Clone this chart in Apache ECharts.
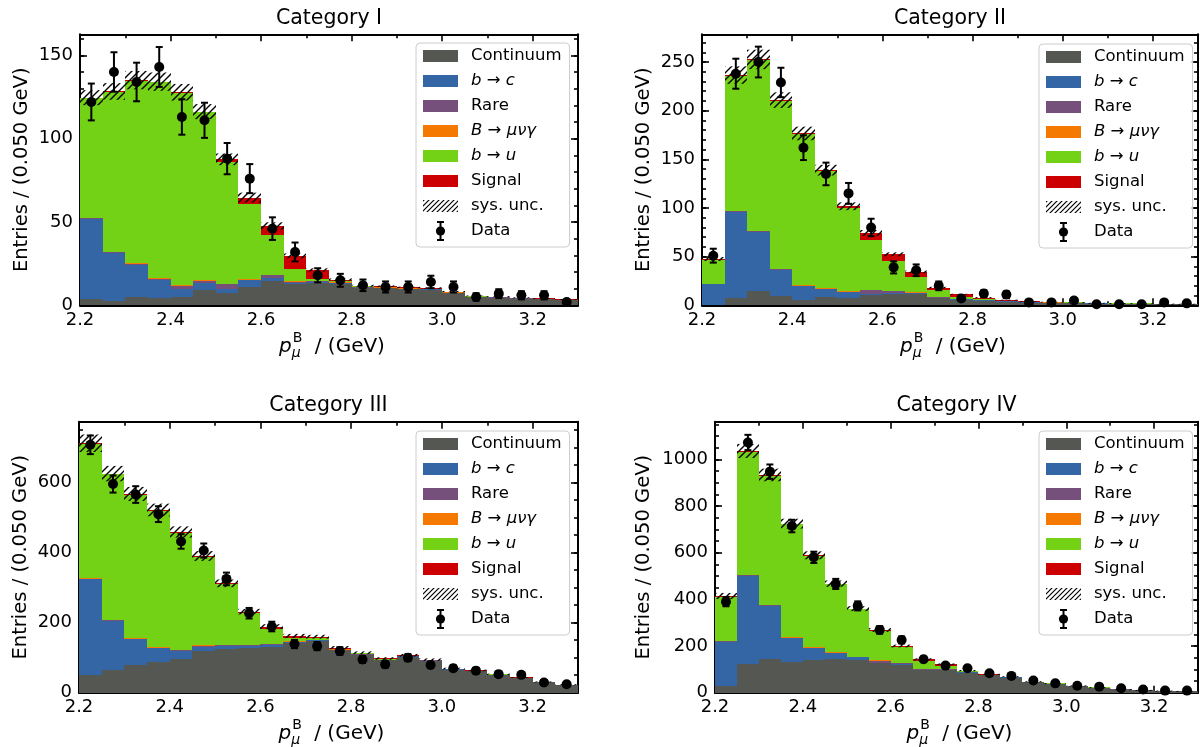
<!DOCTYPE html>
<html><head><meta charset="utf-8">
<script src="https://cdn.jsdelivr.net/npm/echarts@6/dist/echarts.min.js"></script>
<style>html,body{margin:0;padding:0;background:#fff}#c{width:1200px;height:747px}</style>
</head><body><div id="c"></div>
<script>
// ---------------- data ----------------
const binEdges = [2.20,2.25,2.30,2.35,2.40,2.45,2.50,2.55,2.60,2.65,2.70,2.75,2.80,2.85,2.90,2.95,3.00,3.05,3.10,3.15,3.20,3.25,3.30];
const xMajorTicks = [2.2,2.4,2.6,2.8,3.0,3.2];
const xMinorTicks = [2.3,2.5,2.7,2.9,3.1,3.3];
const categoryTitles = ['Category I','Category II','Category III','Category IV'];
const componentNames = ['Continuum','b → c','Rare','B → μνγ','b → u','Signal'];
const yMajorTicks = [[0,50,100,150],[0,50,100,150,200,250],[0,200,400,600],[0,200,400,600,800,1000]];
const yMinorStep = [10,10,50,50];
const yMax = [162.6,278.5,774,1161];

// Category I
const cat1Continuum = [3.6,2.8,5.2,4.6,5.2,9.4,7.4,11.2,14.8,12.6,13.5,13.0,10.3,10.2,9.8,9.3,7.4,4.9,4.5,3.9,3.5,3.0];
const cat1BtoC      = [48.0,28.8,19.2,10.8,4.6,4.2,2.4,4.0,1.4,0.6,0.5,0.3,0.2,0.2,0.1,0.2,0.1,0.1,0.1,0.1,0.1,0.1];
const cat1Rare      = [0.6,0.3,0.3,0.6,2.0,1.2,3.0,0.2,1.8,1.0,0.3,0.3,0.2,0.2,0.1,0.1,0.1,0.1,0.1,0.1,0.1,0.1];
const cat1BMuNuGam  = [0.2,0.2,0.4,0.2,0.4,0.4,0.2,0.2,0.2,0.2,0.2,0.2,0.1,0.1,0.1,0.1,0.1,0.1,0.1,0.1,0.1,0.1];
const cat1BtoU      = [71.8,95.8,109.6,117.6,115.2,100.6,72.8,45.0,24.0,7.4,1.1,0.6,0.5,0.4,0.3,0.3,0.2,0.2,0.2,0.1,0.1,0.1];
const cat1Signal    = [0.4,0.4,0.4,0.4,0.4,0.4,1.8,4.0,5.4,7.8,5.6,1.0,0.4,0.3,0.3,0.3,0.3,0.2,0.2,0.2,0.2,0.2];
const cat1SysUnc    = [4.5,5,5.5,5.5,5,4.5,3.5,3,2.2,1.5,1,0.7,0.6,0.5,0.5,0.5,0.4,0.3,0.3,0.3,0.2,0.2];
const cat1Data      = [122,140,134,143,113,111,88,76,46,32,18,15,12,11,11,14,11,5,7,6,6,2];

// Category II
const cat2Continuum = [0.5,7.5,14.4,9.2,5.8,8.6,7.2,10.3,11.3,12.0,7.5,5.8,4.4,3.5,2.8,2.5,2.2,1.8,1.5,1.4,1.1,1.0];
const cat2BtoC      = [21.0,88.5,61.4,27.5,13.7,7.8,6.2,1.7,1.5,0.5,0.3,0.3,1.0,0.5,0.3,0.2,0.2,0.1,0.1,0.1,0.1,0.1];
const cat2Rare      = [0.3,0.4,0.4,0.4,0.7,0.7,0.5,3.8,1.6,0.6,0.3,0.2,0.2,0.1,0.1,0.1,0.1,0.1,0.1,0.1,0.1,0.1];
const cat2BMuNuGam  = [0.2,0.3,0.3,0.3,0.7,0.7,0.5,0.2,0.2,0.2,0.3,0.2,0.1,0.1,0.1,0.1,0.1,0.1,0.1,0.1,0.1,0.1];
const cat2BtoU      = [25.0,139.2,175.5,172.8,155.0,120.4,86.1,51.5,31.0,15.8,7.7,2.1,0.8,0.6,0.3,0.3,0.3,0.2,0.2,0.2,0.1,0.1];
const cat2Signal    = [0.6,0.7,0.7,0.7,0.7,0.7,1.3,6.9,6.8,5.2,2.1,2.7,1.5,0.7,0.4,0.3,0.2,0.2,0.2,0.2,0.1,0.1];
const cat2SysUnc    = [2,9,10,8,7,5.5,4,3,2,1.4,0.8,0.5,0.4,0.3,0.2,0.2,0.2,0.1,0.1,0.1,0.1,0.1];
const cat2Data      = [51,238,250,229,162,135,115,80,39,36,20,7,12,11,3,3,5,1,1,1,3,2];

// Category III
const cat3Continuum = [50.6,64.8,79.1,87.7,96.2,119.0,124.8,128.6,131.5,142.9,148.6,121.0,108.0,93.0,103.0,91.0,66.0,61.0,50.5,41.5,29.5,22.0];
const cat3BtoC      = [273.3,141.0,74.3,39.0,23.8,12.5,8.6,4.8,5.7,1.5,1.0,1.2,0.8,0.7,0.6,0.5,0.5,0.4,0.3,0.3,0.2,0.2];
const cat3Rare      = [1.5,1.0,1.0,1.9,1.0,2.8,1.9,2.8,1.9,1.4,1.0,1.0,0.8,0.6,0.5,0.5,0.4,0.4,0.3,0.3,0.3,0.2];
const cat3BMuNuGam  = [2.3,1.9,1.0,1.0,1.0,0.8,0.8,0.8,0.8,0.6,0.5,0.5,0.4,0.4,0.3,0.3,0.3,0.2,0.2,0.2,0.2,0.2];
const cat3BtoU      = [382.8,415.2,410.4,390.4,335.2,253.5,174.4,91.6,42.1,10.8,4.0,2.5,2.0,1.5,1.5,1.2,1.0,1.0,0.8,0.8,0.6,0.5];
const cat3Signal    = [1.9,1.9,1.9,2.0,1.9,1.9,1.9,2.9,6.6,4.8,4.8,2.5,2.0,1.5,1.0,1.0,0.8,0.6,0.5,0.4,0.3,0.3];
const cat3SysUnc    = [25,22,20,18,16,14,11,8,7,6,5.5,4.5,4,3.5,3.8,3.3,2.5,2.3,1.9,1.5,1.1,0.9];
const cat3Data      = [708,596,566,510,432,406,325,227,189,139,133,119,95,81,100,79,70,63,53,51,29,24];

// Category IV
const cat4Continuum = [30.0,124.4,144.4,133.0,140.1,144.4,140.1,125.8,118.7,97.3,97.3,86.0,74.0,65.0,45.0,38.0,28.5,21.5,13.5,10.8,8.0,6.7];
const cat4BtoC      = [188.7,375.7,227.2,100.0,50.0,24.3,11.4,2.9,3.0,2.0,1.0,1.0,0.5,0.4,0.3,0.3,0.2,0.2,0.1,0.1,0.1,0.1];
const cat4Rare      = [1.5,2.9,2.9,1.5,1.5,1.5,1.5,8.6,4.1,2.0,1.5,0.8,0.6,0.5,0.4,0.3,0.3,0.2,0.2,0.1,0.1,0.1];
const cat4BMuNuGam  = [1.5,1.5,1.5,2.8,2.8,2.8,1.5,1.5,1.5,1.5,1.0,0.8,0.6,0.5,0.4,0.3,0.3,0.2,0.2,0.1,0.1,0.1];
const cat4BtoU      = [189.9,528.5,554.1,484.2,391.4,291.4,202.8,125.6,67.1,34.5,15.0,3.0,1.5,1.2,1.0,0.8,0.6,0.5,0.4,0.3,0.3,0.2];
const cat4Signal    = [2.8,2.8,2.8,2.8,2.8,2.8,2.8,4.3,5.7,5.7,5.7,2.8,1.5,1.0,0.8,0.6,0.5,0.4,0.3,0.3,0.2,0.2];
const cat4SysUnc    = [13,30,27,21,17,13.5,10.5,8,6,4.3,3.7,2.8,2.3,2,1.4,1.2,0.9,0.7,0.5,0.4,0.3,0.2];
const cat4Data      = [390,1072,947,714,580,466,372,269,226,143,116,105,83,72,52,40,30,26,19,14,9,9];

// ---------------- assembly ----------------
const panels = [
  {comps:[cat1Continuum,cat1BtoC,cat1Rare,cat1BMuNuGam,cat1BtoU,cat1Signal], sys:cat1SysUnc, data:cat1Data},
  {comps:[cat2Continuum,cat2BtoC,cat2Rare,cat2BMuNuGam,cat2BtoU,cat2Signal], sys:cat2SysUnc, data:cat2Data},
  {comps:[cat3Continuum,cat3BtoC,cat3Rare,cat3BMuNuGam,cat3BtoU,cat3Signal], sys:cat3SysUnc, data:cat3Data},
  {comps:[cat4Continuum,cat4BtoC,cat4Rare,cat4BMuNuGam,cat4BtoU,cat4Signal], sys:cat4SysUnc, data:cat4Data}
];
const compColors = ['#555753','#3465a4','#75507b','#f57900','#73d216','#cc0000'];
const FONT = 'DejaVu Sans';
const TXT = '#000';

const gridRects = [
  {left:80, top:34.3, width:498, height:271},
  {left:702, top:34.3, width:496, height:271},
  {left:79, top:421.7, width:499, height:271},
  {left:715, top:421.7, width:483, height:271}
];
const legendPos = [{left:416, top:43},{left:1039, top:44},{left:416, top:431},{left:1039, top:431}];
const yLabelX = [21.5, 644, 21, 644];

function hatchCanvas() {
  const s = 7;
  const c = document.createElement('canvas'); c.width = s; c.height = s;
  const ctx = c.getContext('2d');
  ctx.strokeStyle = '#000'; ctx.lineWidth = 1.4;
  ctx.beginPath();
  ctx.moveTo(0, s); ctx.lineTo(s, 0);
  ctx.moveTo(-2, 2); ctx.lineTo(2, -2);
  ctx.moveTo(s - 2, s + 2); ctx.lineTo(s + 2, s - 2);
  ctx.stroke();
  return c;
}
const HATCH = hatchCanvas();

function renderRect(params, api) {
  const p0 = api.coord([api.value(0), api.value(2)]);
  const p1 = api.coord([api.value(1), api.value(3)]);
  const x0 = Math.round(p0[0]), x1 = Math.round(p1[0]);
  const yb = Math.round(p0[1]), yt = Math.round(p1[1]);
  if (yb - yt <= 0) return null;
  return {type:'rect', shape:{x:x0, y:yt, width:x1 - x0, height:yb - yt}, style:{fill: api.visual('color')}};
}
function renderHatch(params, api) {
  const p0 = api.coord([api.value(0), api.value(2)]);
  const p1 = api.coord([api.value(1), api.value(3)]);
  const x0 = Math.round(p0[0]), x1 = Math.round(p1[0]);
  return {type:'rect', shape:{x:x0, y:p1[1], width:x1 - x0, height:Math.max(p0[1] - p1[1], 1)},
          style:{fill:{image:HATCH, repeat:'repeat'}, stroke:null}};
}
function renderErr(params, api) {
  const x = api.value(0), y = api.value(1), e = api.value(2);
  const pt = api.coord([x, y + e]), pb = api.coord([x, y - e]);
  const cap = 3.5, st = {stroke:'#000', lineWidth:2};
  return {type:'group', children:[
    {type:'line', shape:{x1:pt[0], y1:pt[1], x2:pb[0], y2:pb[1]}, style:st},
    {type:'line', shape:{x1:pt[0]-cap, y1:pt[1], x2:pt[0]+cap, y2:pt[1]}, style:st},
    {type:'line', shape:{x1:pb[0]-cap, y1:pb[1], x2:pb[0]+cap, y2:pb[1]}, style:st}
  ]};
}

const grids = [], xAxes = [], yAxes = [], series = [], legends = [], graphics = [];
const tickStyle = {color:'#000', width:1.6};

function svgIcon(inner) {
  return 'image://data:image/svg+xml;utf8,' + encodeURIComponent(
    '<svg xmlns="http://www.w3.org/2000/svg" width="43" height="20" viewBox="0 0 43 20">' + inner + '</svg>');
}
const hatchIcon = svgIcon('<defs><pattern id="h" width="5" height="5" patternUnits="userSpaceOnUse"><path d="M0,5 L5,0 M-1,1 L1,-1 M4,6 L6,4" stroke="#000" stroke-width="1.2"/></pattern></defs><rect x="0" y="4" width="35" height="12" fill="url(#h)"/>');
const dataIcon = svgIcon('<line x1="17.5" y1="0.5" x2="17.5" y2="19.5" stroke="#000" stroke-width="2"/><line x1="14" y1="1" x2="21" y2="1" stroke="#000" stroke-width="2"/><line x1="14" y1="19" x2="21" y2="19" stroke="#000" stroke-width="2"/><circle cx="17.5" cy="10" r="4.6" fill="#000"/>');
const compIcons = compColors.map(c => svgIcon('<rect x="0" y="4" width="35" height="12" fill="' + c + '"/>'));
const legendNames = componentNames.concat(['sys. unc.', 'Data']);
const legendIcons = compIcons.concat([hatchIcon, dataIcon]);
const legendRich = {
  'Continuum':'Continuum', 'b → c':'{i|b} → {i|c}', 'Rare':'Rare', 'B → μνγ':'{i|B} → {i|μνγ}',
  'b → u':'{i|b} → {i|u}', 'Signal':'Signal', 'sys. unc.':'sys. unc.', 'Data':'Data'
};

panels.forEach((p, g) => {
  const r = gridRects[g];
  grids.push({left:r.left, top:r.top, width:r.width, height:r.height, containLabel:false, show:false});
  const xc = {type:'value', gridIndex:g, min:2.2, max:3.3, splitLine:{show:false}, axisLine:{show:false, onZero:false}, axisLabel:{show:false}, silent:true};
  xAxes.push(Object.assign({}, xc, {position:'bottom',
    axisLine:{show:true, onZero:false, lineStyle:{color:'#000', width:2}},
    axisTick:{show:true, inside:true, length:7, lineStyle:tickStyle, customValues:xMajorTicks},
    axisLabel:{show:true, customValues:xMajorTicks, formatter:v => v.toFixed(1), margin:6, fontFamily:FONT, fontSize:18, color:TXT}}));
  xAxes.push(Object.assign({}, xc, {position:'bottom', axisTick:{show:true, inside:true, length:4, lineStyle:tickStyle, customValues:xMinorTicks}}));
  xAxes.push(Object.assign({}, xc, {position:'top',
    axisLine:{show:true, onZero:false, lineStyle:{color:'#000', width:2}},
    axisTick:{show:true, inside:true, length:7, lineStyle:tickStyle, customValues:xMajorTicks}}));
  xAxes.push(Object.assign({}, xc, {position:'top', axisTick:{show:true, inside:true, length:4, lineStyle:tickStyle, customValues:xMinorTicks}}));

  const minor = [];
  for (let v = yMinorStep[g]; v < yMax[g]; v += yMinorStep[g]) minor.push(v);
  const yc = {type:'value', gridIndex:g, min:0, max:yMax[g], splitLine:{show:false}, axisLine:{show:false, onZero:false}, axisLabel:{show:false}, silent:true};
  yAxes.push(Object.assign({}, yc, {position:'left',
    axisLine:{show:true, onZero:false, lineStyle:{color:'#000', width:2}},
    axisTick:{show:true, inside:true, length:7, lineStyle:tickStyle, customValues:yMajorTicks[g]},
    axisLabel:{show:true, customValues:yMajorTicks[g], formatter:v => String(v), margin:7, fontFamily:FONT, fontSize:18, color:TXT}}));
  yAxes.push(Object.assign({}, yc, {position:'left', axisTick:{show:true, inside:true, length:4, lineStyle:tickStyle, customValues:minor}}));
  yAxes.push(Object.assign({}, yc, {position:'right',
    axisLine:{show:true, onZero:false, lineStyle:{color:'#000', width:2}},
    axisTick:{show:true, inside:true, length:7, lineStyle:tickStyle, customValues:yMajorTicks[g]}}));
  yAxes.push(Object.assign({}, yc, {position:'right', axisTick:{show:true, inside:true, length:4, lineStyle:tickStyle, customValues:minor}}));

  const xi = 4 * g, yi = 4 * g;
  const nb = binEdges.length - 1;
  const cum = new Array(nb).fill(0);
  p.comps.forEach((vals, c) => {
    const d = [];
    for (let i = 0; i < nb; i++) {
      d.push([binEdges[i], binEdges[i + 1], cum[i], cum[i] + vals[i]]);
      cum[i] += vals[i];
    }
    series.push({type:'custom', name:componentNames[c], xAxisIndex:xi, yAxisIndex:yi, renderItem:renderRect,
      itemStyle:{color:compColors[c]}, data:d, z:2, silent:true, encode:{x:[0,1], y:[2,3]}});
  });
  const hd = [];
  for (let i = 0; i < nb; i++) hd.push([binEdges[i], binEdges[i + 1], cum[i] - p.sys[i], cum[i] + p.sys[i]]);
  series.push({type:'custom', name:'sys. unc.', xAxisIndex:xi, yAxisIndex:yi, renderItem:renderHatch,
    itemStyle:{color:'#000'}, data:hd, z:3, silent:true, encode:{x:[0,1], y:[2,3]}});
  const ed = [], pd = [];
  for (let i = 0; i < nb; i++) {
    const xcn = (binEdges[i] + binEdges[i + 1]) / 2;
    ed.push([xcn, p.data[i], Math.sqrt(p.data[i])]);
    pd.push([xcn, p.data[i]]);
  }
  series.push({type:'custom', name:'Data', xAxisIndex:xi, yAxisIndex:yi, renderItem:renderErr,
    itemStyle:{color:'#000'}, data:ed, z:4, silent:true, encode:{x:0, y:1}});
  series.push({type:'scatter', name:'Data', xAxisIndex:xi, yAxisIndex:yi, symbol:'circle', symbolSize:10,
    itemStyle:{color:'#000', opacity:1}, data:pd, z:5, silent:true});

  legends.push({orient:'vertical', left:legendPos[g].left, top:legendPos[g].top, itemWidth:43, itemHeight:20, itemGap:5,
    padding:[3, 8, 6, 7], backgroundColor:'rgba(255,255,255,0.8)', borderColor:'#cccccc', borderWidth:1, borderRadius:4,
    selectedMode:false, z:10,
    textStyle:{fontFamily:FONT, fontSize:16.5, color:TXT, lineHeight:20,
      rich:{i:{fontFamily:FONT, fontSize:16.5, fontStyle:'italic', color:TXT, lineHeight:20}}},
    formatter:name => legendRich[name],
    data:legendNames.map((n, k) => ({name:n, icon:legendIcons[k]}))});

  const cx = r.left + r.width / 2, cy = r.top + r.height / 2;
  graphics.push({type:'text', x:cx, y:r.top - 16, style:{text:categoryTitles[g], font:'20.5px "DejaVu Sans"', fill:TXT, align:'center', verticalAlign:'middle'}});
  graphics.push({type:'text', x:yLabelX[g], y:cy, rotation:Math.PI / 2, style:{text:'Entries / (0.050 GeV)', font:'19.5px "DejaVu Sans"', fill:TXT, align:'center', verticalAlign:'middle'}});
  // x-axis label  p_mu^B / (GeV)
  const mc = document.createElement('canvas').getContext('2d');
  mc.font = 'italic 20px "DejaVu Sans"'; const wp = mc.measureText('p').width;
  mc.font = '14px "DejaVu Sans"'; const wB = mc.measureText('B').width;
  mc.font = 'italic 14px "DejaVu Sans"'; const wm = mc.measureText('μ').width;
  mc.font = '20px "DejaVu Sans"'; const wr = mc.measureText(' / (GeV)').width;
  const ws = Math.max(wB, wm) + 7;
  const total = wp + ws + wr;
  const x0 = cx - total / 2 + 3, ly = r.top + r.height + 41;
  graphics.push({type:'text', x:x0, y:ly, style:{text:'p', font:'italic 20px "DejaVu Sans"', fill:TXT, align:'left', verticalAlign:'middle'}});
  graphics.push({type:'text', x:x0 + wp + 1, y:ly - 8, style:{text:'B', font:'14px "DejaVu Sans"', fill:TXT, align:'left', verticalAlign:'middle'}});
  graphics.push({type:'text', x:x0 + wp, y:ly + 7, style:{text:'μ', font:'italic 14px "DejaVu Sans"', fill:TXT, align:'left', verticalAlign:'middle'}});
  graphics.push({type:'text', x:x0 + wp + ws, y:ly, style:{text:' / (GeV)', font:'20px "DejaVu Sans"', fill:TXT, align:'left', verticalAlign:'middle'}});
});

const chart = echarts.init(document.getElementById('c'), null, {renderer:'canvas', width:1200, height:747});
chart.setOption({
  animation:false,
  backgroundColor:'#ffffff',
  grid:grids, xAxis:xAxes, yAxis:yAxes, series:series, legend:legends,
  graphic:{elements:graphics}
});
</script>
</body></html>
